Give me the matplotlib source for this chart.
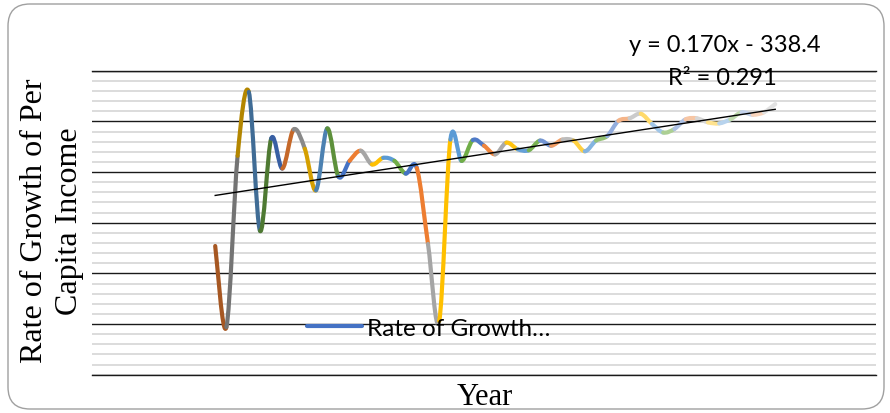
import numpy as np
import matplotlib
matplotlib.use("Agg")
import matplotlib.pyplot as plt
from matplotlib.colors import to_rgb
from matplotlib.path import Path
from matplotlib.patches import PathPatch, FancyBboxPatch
from matplotlib.lines import Line2D
from matplotlib.ticker import MultipleLocator

# ---- data -------------------------------------------------------------
years = list(range(1977, 2028))
growth = [-7.3, -15.3, 1.6, 7.9, -5.8, 3.3, 0.35, 4.2, 2.3, -1.8,
          4.3, -0.45, 1.1, 2.1, 0.75, 1.4, 1.1, -0.15, 0.4, -7.1,
          -14.7, 3.2, 1.1, 3.15, 2.6, 1.75, 2.9, 2.25, 2.15, 3.1,
          2.6, 3.2, 3.1, 2.05, 3.1, 3.55, 5.05, 5.3, 5.75, 4.75,
          3.9, 4.25, 5.2, 5.3, 4.9, 4.8, 5.2, 5.9, 5.65, 5.9, 6.7]
trend_slope = 0.170
trend_intercept = -338.4
r_squared = 0.291
series_name = "Rate of Growth…"
y_title = "Rate of Growth of Per\nCapita Income"
x_title = "Year"

# ---- styling ----------------------------------------------------------
accents = ["#4472C4", "#ED7D31", "#A5A5A5", "#FFC000", "#5B9BD5", "#70AD47"]
cycle_shade = [-0.30, -0.17, 0.0, 0.0, 0.06, 0.25, 0.42, 0.56, 0.68]


def shaded(color, f):
    rgb = np.array(to_rgb(color))
    if f < 0:
        return tuple(rgb * (1 + f))
    return tuple(rgb + (1 - rgb) * f)


W, H = 890, 414
fig = plt.figure(figsize=(W / 100, H / 100), dpi=100)
fig.patch.set_facecolor("white")

# rounded chart border
border = FancyBboxPatch((0.08, 0.04), 8.76, 4.05,
                        boxstyle="round,pad=0,rounding_size=0.22",
                        transform=fig.dpi_scale_trans, facecolor="none",
                        edgecolor="#A0A0A0", lw=1.0, zorder=-1)
fig.patches.append(border)

left, right, top, bottom = 92, 876, 71.7, 375.7
ax = fig.add_axes([left / W, 1 - bottom / H, (right - left) / W, (bottom - top) / H])
ax.patch.set_alpha(0)
ax.set_xlim(1966, 2036)
ax.set_ylim(-20, 10)
ax.yaxis.set_major_locator(MultipleLocator(5))
ax.yaxis.set_minor_locator(MultipleLocator(1))
ax.grid(which="major", axis="y", color="#1A1A1A", lw=1.0, zorder=0)
ax.grid(which="minor", axis="y", color="#D2D2D2", lw=1.1, zorder=0)
ax.tick_params(which="both", length=0, labelleft=False, labelbottom=False)
for side, sp in ax.spines.items():
    if side in ("top", "bottom"):
        sp.set_color("#1A1A1A")
        sp.set_linewidth(1.0)
    else:
        sp.set_visible(False)
ax.set_axisbelow(True)

# smoothed series, one coloured Bezier piece per point
x = np.array(years, dtype=float)
y = np.array(growth, dtype=float)
n = len(x)
for i in range(n - 1):
    p_prev = np.array([x[max(i - 1, 0)], y[max(i - 1, 0)]])
    p0 = np.array([x[i], y[i]])
    p1 = np.array([x[i + 1], y[i + 1]])
    p_next = np.array([x[min(i + 2, n - 1)], y[min(i + 2, n - 1)]])
    c1 = p0 + (p1 - p_prev) / 6.0
    c2 = p1 - (p_next - p0) / 6.0
    path = Path([p0, c1, c2, p1],
                [Path.MOVETO, Path.CURVE4, Path.CURVE4, Path.CURVE4])
    k = i + 1
    col = shaded(accents[k % 6], cycle_shade[k // 6])
    ax.add_patch(PathPatch(path, fill=False, edgecolor=col, lw=3.0,
                           capstyle="round", joinstyle="round", zorder=2))

# linear trend line
tx = np.array([x[0], x[-1]])
ax.plot(tx, trend_slope * tx + trend_intercept, color="black", lw=1.0, zorder=3)

# legend
handle = Line2D([], [], color="#4472C4", lw=3.0, solid_capstyle="round")
ax.legend([handle], [series_name], loc="center left",
          bbox_to_anchor=(307 / W, 1 - 329 / H), bbox_transform=fig.transFigure,
          frameon=False, borderpad=0, borderaxespad=0, handlelength=2.25,
          handletextpad=0.2, prop={"family": "Lato", "size": 17.5})

# trend equation
fig.text(725 / W, 1 - 51.7 / H, f"y = {trend_slope:.3f}x - {abs(trend_intercept):.1f}",
         ha="center", va="baseline", family="Lato", size=17, zorder=6)
fig.text(722 / W, 1 - 85 / H, f"R² = {r_squared:.3f}",
         ha="center", va="baseline", family="Lato", size=17, zorder=6)

# axis titles
fig.text(52 / W, 1 - 221 / H, y_title, rotation=90, ha="center", va="center",
         family="Liberation Serif", size=23, linespacing=1.3)
fig.text(485 / W, 1 - 405 / H, x_title, ha="center", va="baseline",
         family="Liberation Serif", size=22)

fig.savefig("out.png", dpi=100)
